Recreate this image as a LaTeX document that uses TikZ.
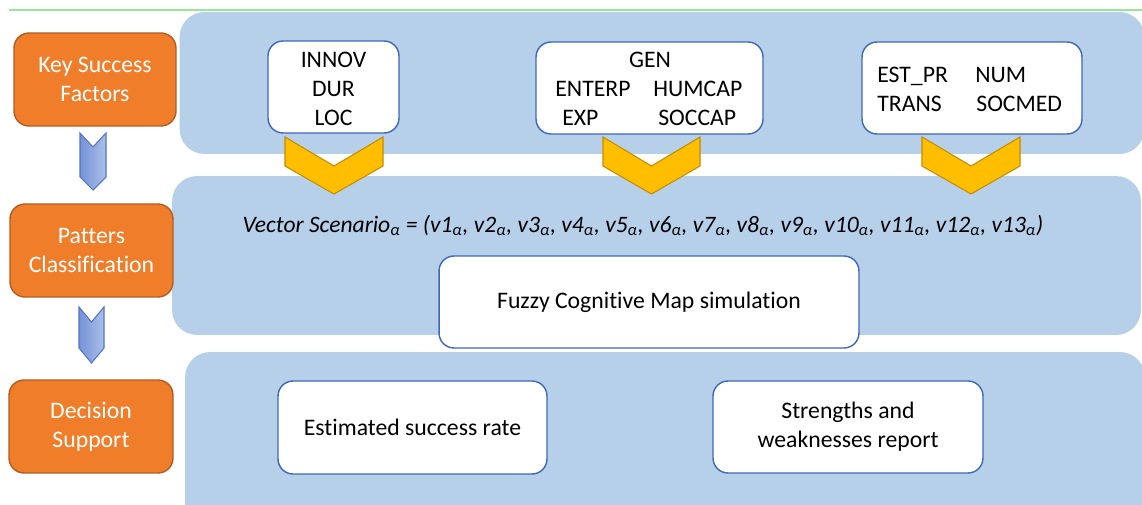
\documentclass[tikz,border=0pt]{standalone}
\usepackage{fontspec}
\setmainfont{Carlito}[Ligatures=NoCommon]
\definecolor{panelblue}{RGB}{183,208,234}
\definecolor{orfill}{RGB}{240,125,42}
\definecolor{ordraw}{RGB}{176,92,34}
\definecolor{wbdraw}{RGB}{62,104,184}
\definecolor{chevyellow}{RGB}{255,190,0}
\definecolor{chevydraw}{RGB}{196,140,0}
\definecolor{bchevL}{RGB}{118,146,214}
\definecolor{bchevR}{RGB}{172,192,234}
\definecolor{bchevD}{RGB}{80,118,196}
\definecolor{topgreen}{RGB}{150,232,150}
\newcommand{\subal}{\textsubscript{α}}
\begin{document}
\begin{tikzpicture}[x=0.02cm,y=-0.02cm,
  panel/.style={fill=panelblue, draw=none, rounded corners=0.5cm, inner sep=0pt},
  orangebox/.style={fill=orfill, draw=ordraw, line width=0.8pt, rounded corners=0.3cm, text=white,
    font=\fontsize{13.5}{16.5}\selectfont, align=center, minimum height=1.86cm, inner sep=0pt},
  whitebox/.style={fill=white, draw=wbdraw, line width=0.8pt, rounded corners=0.3cm,
    font=\fontsize{13.5}{16.5}\selectfont, align=center, minimum height=1.84cm, inner sep=0pt},
  lbl/.style={font=\fontsize{13.5}{16.5}\selectfont, anchor=base west, inner sep=0pt},
  ychev/.style={fill=chevyellow, draw=chevydraw, line width=0.6pt, line join=miter},
  bchev/.style={left color=bchevL, right color=bchevR, draw=bchevD, line width=0.6pt, line join=miter}]
\useasboundingbox (0,0) rectangle (1142,504);
\clip (0,0) rectangle (1142,504);
\fill[white] (0,0) rectangle (1142,504);
\draw[topgreen, line width=0.8pt] (9,10) -- (1142,10);

% panels
\node[panel, minimum width=19.3cm, minimum height=2.84cm] (p1) at (662,83) {};
\node[panel, minimum width=19.38cm, minimum height=3.18cm] (p2) at (656.5,255.5) {};
\node[panel, minimum width=19.2cm, minimum height=3.56cm] (p3) at (665,441) {};

% orange boxes
\node[orangebox, minimum width=3.24cm] (ksf) at (95,79.5) {Key Success\\Factors};
\node[orangebox, minimum width=3.26cm] (pc) at (91.5,250.5) {Patters\\Classification};
\node[orangebox, minimum width=3.28cm] (ds) at (91,426.5) {Decision\\Support};

% left chevrons
\path[bchev] (80,133) -- (93,147) -- (106,133) -- (106,177) -- (93,190) -- (80,177) -- cycle;
\path[bchev] (79,307) -- (91.5,322) -- (104,307) -- (104,348) -- (91.5,363) -- (79,348) -- cycle;

% top white boxes
\node[whitebox, minimum width=2.62cm] (b1) at (333.5,87) {};
\node[lbl, anchor=base] (innov) at (333.5,67) {INNOV};
\node[lbl, anchor=base] (dur) at (333.5,96) {DUR};
\node[lbl, anchor=base] (loc) at (333.5,125) {LOC};
\node[whitebox, minimum width=4.54cm] (b2) at (649.5,88) {};
\node[whitebox, minimum width=4.4cm] (b3) at (972,88) {};
\node[lbl, anchor=base] (gen) at (650,67) {GEN};
\node[lbl] (enterp) at (555,96) {ENTERP};
\node[lbl] (humcap) at (653,96) {HUMCAP};
\node[lbl] (exp) at (562,125) {EXP};
\node[lbl] (soccap) at (658,125) {SOCCAP};
\node[lbl] (estpr) at (877,82) {EST\_PR};
\node[lbl] (num) at (975,82) {NUM};
\node[lbl] (trans) at (877,111) {TRANS};
\node[lbl] (socmed) at (976,111) {SOCMED};

% yellow chevrons
\path[ychev] (285,137) -- (334,166) -- (383,137) -- (383,166) -- (334,194) -- (285,166) -- cycle;
\path[ychev] (603,137) -- (651.5,166) -- (700,137) -- (700,166) -- (651.5,194) -- (603,166) -- cycle;
\path[ychev] (922,137) -- (971,166) -- (1020,137) -- (1020,166) -- (971,194) -- (922,166) -- cycle;

% vector text
\node[font=\fontsize{13.4}{16}\selectfont\itshape, anchor=base, inner sep=0pt] (vec) at (643,232)
  {Vector Scenario\subal{} = (v1\subal, v2\subal, v3\subal, v4\subal, v5\subal, v6\subal, v7\subal, v8\subal, v9\subal, v10\subal, v11\subal, v12\subal, v13\subal)};

% middle / bottom boxes
\node[whitebox, minimum width=8.4cm] (fcm) at (649,302) {Fuzzy Cognitive Map simulation};
\node[whitebox, minimum width=5.38cm, minimum height=1.86cm] (esr) at (412.5,427.5) {Estimated success rate};
\node[whitebox, minimum width=5.4cm] (swr) at (848,427) {Strengths and\\weaknesses report};
\end{tikzpicture}
\end{document}
